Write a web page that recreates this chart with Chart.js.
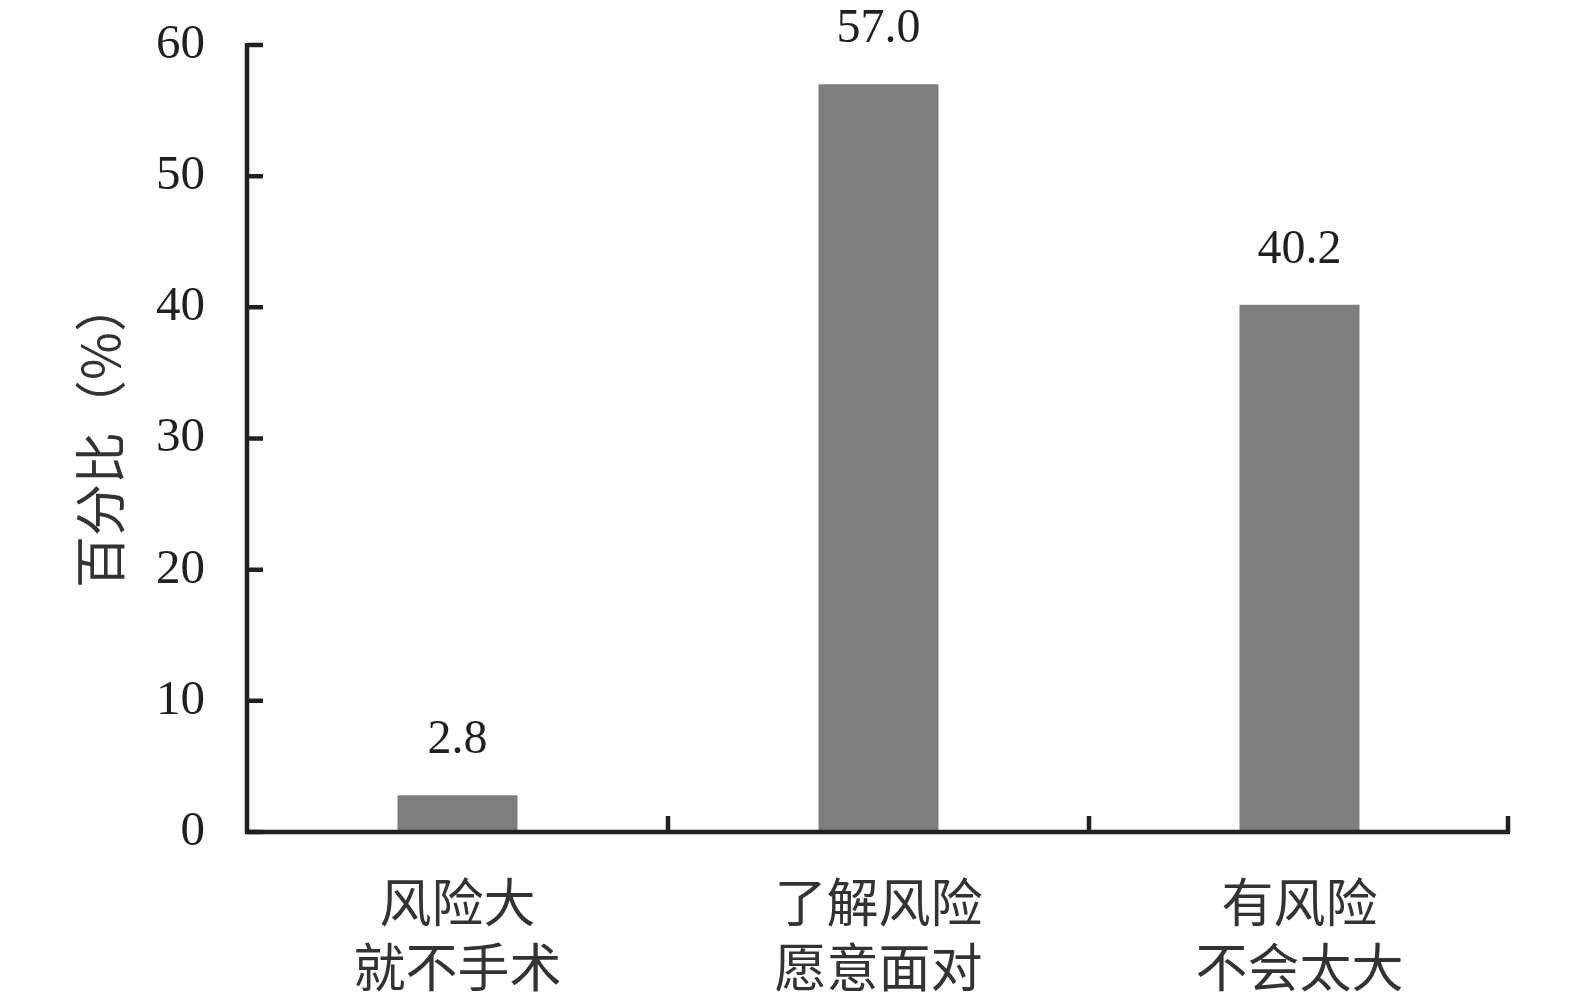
<!DOCTYPE html>
<html>
<head>
<meta charset="utf-8">
<script src="https://cdn.jsdelivr.net/npm/chart.js@4.4.1/dist/chart.umd.min.js"></script>
<style>
  html, body { margin: 0; padding: 0; background: #fff; }
  #wrap { width: 1575px; height: 1004px; }
</style>
</head>
<body>
<div id="wrap"><canvas id="chart"></canvas></div>
<script>
// data
const categories = [['风险大', '就不手术'], ['了解风险', '愿意面对'], ['有风险', '不会太大']]
const percents = [2.8, 57.0, 40.2]
const yTicks = [0, 10, 20, 30, 40, 50, 60]
const yTitle = '百分比（%）'

const INK = '#231f20'
const SERIF = '"Liberation Serif", "DejaVu Serif", serif'
const CJK = '"Noto Sans CJK SC", sans-serif'

// axis lines, inward ticks, value labels and the rotated y title
const axisPlugin = {
  id: 'axisPlugin',
  afterDatasetsDraw(chart) {
    const { ctx, chartArea: a, scales: { x, y } } = chart
    ctx.save()
    ctx.strokeStyle = INK
    ctx.lineWidth = 4.5
    ctx.lineCap = 'butt'

    // y axis + ticks pointing right
    ctx.beginPath()
    ctx.moveTo(a.left, y.getPixelForValue(60) - 2)
    ctx.lineTo(a.left, a.bottom + 2)
    yTicks.forEach(v => {
      const py = y.getPixelForValue(v)
      ctx.moveTo(a.left, py)
      ctx.lineTo(a.left + 16, py)
    })
    ctx.stroke()

    // x axis + category boundary ticks pointing up
    ctx.beginPath()
    ctx.moveTo(a.left - 2, a.bottom)
    ctx.lineTo(a.right, a.bottom)
    for (let i = 0; i < categories.length; i++) {
      const bx = i < categories.length - 1
        ? (x.getPixelForValue(i) + x.getPixelForValue(i + 1)) / 2
        : a.right - 2
      ctx.moveTo(bx, a.bottom)
      ctx.lineTo(bx, a.bottom - 16)
    }
    ctx.stroke()

    // value labels above bars
    ctx.fillStyle = INK
    ctx.font = '48px ' + SERIF
    ctx.textAlign = 'center'
    ctx.textBaseline = 'alphabetic'
    chart.getDatasetMeta(0).data.forEach((bar, i) => {
      ctx.fillText(percents[i].toFixed(1), bar.x, bar.y - 42)
    })

    // y title
    ctx.translate(100, 434)
    ctx.rotate(-Math.PI / 2)
    ctx.font = '52px ' + CJK
    ctx.fillStyle = '#333'
    ctx.textBaseline = 'middle'
    ctx.fillText(yTitle, 0, 0)
    ctx.restore()
  }
}

new Chart(document.getElementById('chart'), {
  type: 'bar',
  data: {
    labels: categories,
    datasets: [{
      data: percents,
      backgroundColor: '#7f7d7e',
      borderWidth: 0,
      categoryPercentage: 1,
      barPercentage: 0.285,
    }]
  },
  options: {
    responsive: true,
    maintainAspectRatio: false,
    animation: false,
    events: [],
    layout: { padding: { left: 0, top: 45, right: 65, bottom: 0 } },
    plugins: { legend: { display: false }, tooltip: { enabled: false } },
    scales: {
      x: {
        grid: { display: false, drawTicks: false },
        border: { display: false },
        ticks: {
          color: '#333',
          font: { family: CJK, size: 52, lineHeight: 1.25 },
          padding: 38,
          maxRotation: 0,
          autoSkip: false,
        },
        afterFit: s => { s.height = 172; s.paddingLeft = 0; s.paddingRight = 0 },
      },
      y: {
        min: 0,
        max: 60,
        grid: { display: false, drawTicks: false },
        border: { display: false },
        ticks: {
          stepSize: 10,
          color: INK,
          font: { family: SERIF, size: 49 },
          padding: 42,
        },
        afterFit: s => { s.width = 247; s.paddingTop = 0; s.paddingBottom = 0 },
      },
    },
  },
  plugins: [axisPlugin],
})
</script>
</body>
</html>
